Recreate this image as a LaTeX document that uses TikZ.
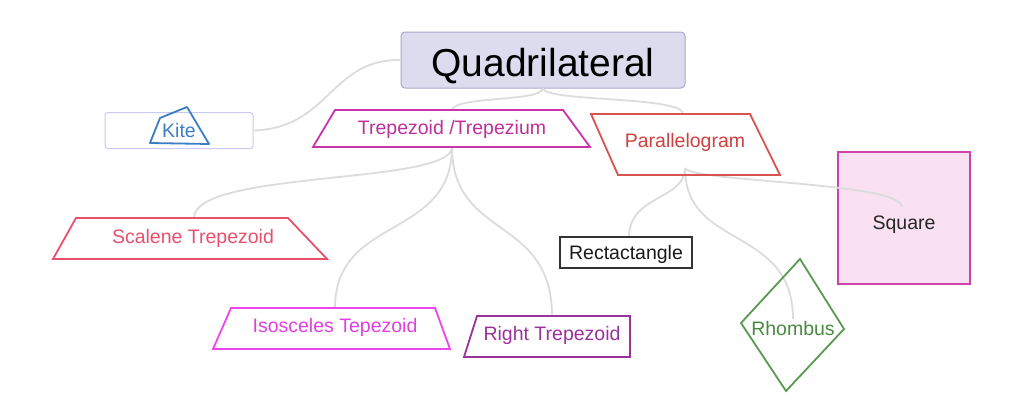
\documentclass[tikz,border=0pt]{standalone}
\usepackage{fontspec}
\setmainfont{Liberation Sans}
\definecolor{connc}{HTML}{DCDCDC}
\definecolor{quadfill}{HTML}{DCDCEE}
\definecolor{quadline}{HTML}{A9A9CC}
\definecolor{kitebox}{HTML}{C9C9F2}
\definecolor{kiteblue}{HTML}{3C7DC6}
\definecolor{trapc}{HTML}{CC33AA}
\definecolor{trapt}{HTML}{C0309A}
\definecolor{parac}{HTML}{D9534F}
\definecolor{parat}{HTML}{D04040}
\definecolor{scalc}{HTML}{E8506E}
\definecolor{isoc}{HTML}{EE44EE}
\definecolor{isot}{HTML}{E040E0}
\definecolor{rightc}{HTML}{993399}
\definecolor{rectc}{HTML}{333333}
\definecolor{rhomc}{HTML}{5A9A50}
\definecolor{rhomt}{HTML}{4A8A40}
\definecolor{sqline}{HTML}{CC44AA}
\definecolor{sqfill}{HTML}{F9E1F2}
\begin{document}
\begin{tikzpicture}[x=1pt,y=-1pt,
  txt/.style={font=\fontsize{19.5}{22}\selectfont, text height=14pt, text depth=0pt},
  lbl/.style={txt, inner sep=0pt},
  conn/.style={draw=connc, line width=1.8pt},
  shp/.style={line width=1.8pt, line join=miter}]
\useasboundingbox (0,0) rectangle (1024,415);
\fill[white] (0,0) rectangle (1024,415);

% filled boxes
\node[draw=quadline, fill=quadfill, rounded corners=4pt, minimum width=284pt,
  minimum height=56pt, line width=1pt, inner sep=0pt,
  font=\fontsize{39}{44}\selectfont, text height=33pt, text depth=0pt] (quad) at (543,60) {Quadrilateral};
\node[draw=sqline, fill=sqfill, line width=1.8pt, minimum width=132pt,
  minimum height=132pt, inner sep=0pt, txt, text height=22pt,
  text=black!85] (square) at (904,218) {Square};
\node[draw=kitebox, fill=white, rounded corners=3pt, minimum width=148pt,
  minimum height=36pt, line width=1pt, inner sep=0pt, text=kiteblue,
  txt] (kite) at (179,130.5) {Kite};

% connector end points
\coordinate (trapT) at (452,110);
\coordinate (trapB) at (452,147);
\coordinate (paraT) at (683,114);
\coordinate (paraB) at (685,168);
\coordinate (scalT) at (194,218);
\coordinate (isoT) at (335,308);
\coordinate (rightT) at (552,316);
\coordinate (rectT) at (629,237);
\coordinate (rhomT) at (793,319);
\coordinate (sqT) at (902,207);

% connectors
\draw[conn] (quad.south) .. controls (540,102) and (455,96) .. (trapT);
\draw[conn] (quad.south) .. controls (546,102) and (683,96) .. (paraT);
\draw[conn] (quad.west) .. controls (330,59) and (330,128) .. (kite.east);
\draw[conn] (trapB) .. controls (452,185) and (194,170) .. (scalT);
\draw[conn] (trapB) .. controls (452,240) and (335,215) .. (isoT);
\draw[conn] (trapB) .. controls (452,240) and (552,215) .. (rightT);
\draw[conn] (paraB) .. controls (685,200) and (629,195) .. (rectT);
\draw[conn] (paraB) .. controls (685,250) and (793,225) .. (rhomT);
\draw[conn] (paraB) .. controls (690,182) and (902,182) .. (sqT);

% kite glyph
\draw[kiteblue, line width=1.8pt, line join=round] (150,143) -- (160,118) -- (187,107) -- (209,144) -- cycle;

% trapezoid
\draw[shp, trapc] (335,110) -- (563,110) -- (590,147) -- (313,147) -- cycle;
\node[lbl, text=trapt] (trap) at (452,127.5) {Trepezoid /Trepezium};

% parallelogram
\draw[shp, parac] (591,114) -- (750,114) -- (780,175) -- (618,175) -- cycle;
\node[lbl, text=parat] (para) at (685,140) {Parallelogram};

% scalene
\draw[shp, scalc] (76,218) -- (288,218) -- (327,259) -- (53,259) -- cycle;
\node[lbl, text=scalc] (scal) at (193,236) {Scalene Trepezoid};

% isosceles
\draw[shp, isoc] (231,308) -- (435,308) -- (450,349) -- (213,349) -- cycle;
\node[lbl, text=isot] (iso) at (335,325) {Isosceles Tepezoid};

% right trapezoid
\draw[shp, rightc] (477,316) -- (630,316) -- (630,357) -- (464,357) -- cycle;
\node[lbl, text=rightc] (right) at (552,333) {Right Trepezoid};

% rectangle
\node[draw=rectc, line width=1.8pt, minimum width=132pt, minimum height=31pt,
  inner sep=0pt, txt, text=black!90] (rect) at (626,252.5) {Rectactangle};

% rhombus
\draw[shp, rhomc] (800,259) -- (844,329) -- (786,391) -- (741,323) -- cycle;
\node[lbl, text=rhomt] (rhom) at (793,328) {Rhombus};
\end{tikzpicture}
\end{document}
